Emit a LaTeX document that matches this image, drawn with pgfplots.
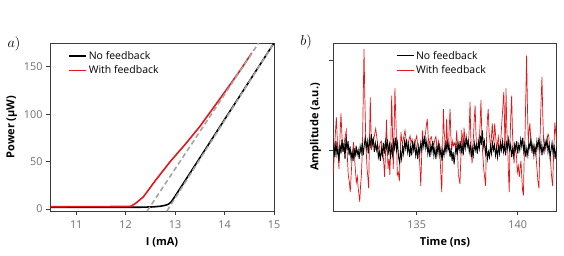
\documentclass[border=0pt]{standalone}
\usepackage{fontspec}
\setmainfont{Open Sans}
\usepackage{pgfplots}
\pgfplotsset{compat=1.18}
\usepackage{pgfplotstable}

\definecolor{fbred}{RGB}{228,22,24}
\definecolor{fitgray}{RGB}{165,165,165}
\definecolor{ticktext}{RGB}{110,110,110}
\definecolor{frame}{RGB}{60,60,60}

% Time trace with optical feedback (red)
\pgfplotstableread{
t a
130.87 -0.28
130.95 0.10
131.02 0.37
131.08 0.05
131.15 -0.21
131.20 0.15
131.25 0.41
131.30 0.15
131.35 -0.02
131.42 0.10
131.51 0.22
131.56 -0.05
131.61 -0.28
131.66 -0.35
131.71 -0.47
131.76 -0.25
131.80 -0.10
131.87 0.09
131.94 -0.15
132.01 -0.36
132.06 -0.30
132.10 -0.42
132.14 -0.50
132.18 -0.58
132.22 -0.40
132.26 -0.28
132.31 0.00
132.35 0.55
132.39 1.13
132.43 0.60
132.48 0.09
132.54 -0.21
132.58 -0.30
132.62 -0.43
132.66 0.10
132.70 0.59
132.73 0.30
132.76 0.00
132.81 0.12
132.86 0.10
132.92 0.18
132.97 0.24
133.03 0.13
133.08 0.05
133.13 0.00
133.19 0.08
133.25 0.10
133.29 0.02
133.33 -0.03
133.37 -0.15
133.41 -0.30
133.46 0.00
133.50 0.34
133.54 0.05
133.58 -0.21
133.63 -0.10
133.67 -0.28
133.72 0.10
133.76 0.61
133.80 0.20
133.84 -0.21
133.88 0.20
133.92 0.69
133.96 0.40
134.00 0.10
134.04 -0.28
134.09 -0.25
134.14 -0.35
134.18 -0.05
134.22 0.20
134.26 0.10
134.30 0.08
134.36 0.15
134.42 0.22
134.48 0.10
134.53 0.00
134.60 0.10
134.67 0.16
134.72 0.08
134.77 0.12
134.82 0.05
134.87 0.00
134.93 0.10
135.00 0.16
135.05 0.05
135.10 0.00
135.15 -0.15
135.20 -0.40
135.24 -0.10
135.28 0.22
135.33 0.10
135.38 0.12
135.44 0.20
135.48 0.28
135.52 0.35
135.57 0.15
135.61 0.05
135.66 0.12
135.72 0.15
135.78 0.08
135.85 0.06
135.90 0.12
135.95 0.15
136.00 0.05
136.04 0.00
136.08 0.10
136.12 0.05
136.17 -0.15
136.21 -0.35
136.24 -0.47
136.28 0.00
136.32 0.46
136.36 0.20
136.40 0.10
136.44 -0.02
136.48 0.35
136.52 0.10
136.57 0.02
136.61 0.25
136.65 0.46
136.69 0.15
136.73 0.00
136.78 0.10
136.82 0.05
136.88 0.08
136.93 0.02
136.98 0.22
137.02 0.00
137.06 -0.28
137.10 -0.32
137.14 -0.38
137.19 -0.05
137.23 0.20
137.27 0.15
137.31 0.00
137.34 0.25
137.38 0.15
137.43 0.10
137.48 0.12
137.52 0.10
137.56 0.05
137.60 0.25
137.64 0.54
137.67 0.20
137.70 0.00
137.74 -0.15
137.77 0.00
137.81 0.15
137.85 0.35
137.89 0.50
137.93 0.20
137.97 0.00
138.02 0.00
138.06 0.05
138.10 0.12
138.14 0.30
138.18 0.56
138.23 0.10
138.27 -0.05
138.32 -0.22
138.36 -0.30
138.41 -0.40
138.45 0.10
138.50 0.35
138.54 0.46
138.58 0.20
138.62 0.12
138.66 0.00
138.70 0.15
138.74 0.30
138.78 0.15
138.82 0.10
138.86 0.30
138.91 0.15
138.96 0.00
139.00 0.08
139.04 0.15
139.08 0.05
139.12 0.00
139.16 0.10
139.21 0.30
139.27 0.50
139.31 0.65
139.34 0.40
139.37 -0.02
139.40 0.30
139.42 0.69
139.46 0.25
139.50 0.05
139.54 -0.25
139.58 -0.47
139.62 0.10
139.66 0.40
139.70 0.61
139.74 0.20
139.78 0.00
139.82 -0.15
139.86 0.08
139.90 0.00
139.94 -0.07
139.98 -0.25
140.03 -0.18
140.08 -0.30
140.12 -0.20
140.16 -0.12
140.20 -0.30
140.24 -0.45
140.28 -0.51
140.32 -0.10
140.36 0.15
140.40 0.60
140.44 1.06
140.48 0.50
140.52 0.10
140.56 0.20
140.60 0.30
140.64 0.15
140.68 0.08
140.72 -0.02
140.76 0.03
140.80 0.05
140.85 -0.03
140.90 -0.05
140.95 -0.20
141.00 -0.35
141.05 -0.43
141.10 0.10
141.15 0.50
141.20 0.82
141.24 0.40
141.28 0.10
141.32 0.05
141.36 0.00
141.40 0.05
141.45 0.12
141.50 0.18
141.54 0.15
141.58 0.02
141.62 -0.10
141.66 -0.25
141.70 -0.35
141.73 -0.40
141.77 -0.10
141.81 0.15
141.84 0.31
141.88 0.20
141.93 0.10
}\tracefb

% Time trace without feedback (black)
\pgfplotstableread{
t a
130.87 0.00
130.90 0.05
130.95 -0.08
131.00 0.10
131.05 -0.05
131.10 0.02
131.15 -0.12
131.20 0.06
131.25 -0.04
131.30 0.12
131.35 -0.02
131.40 0.08
131.45 -0.10
131.50 0.15
131.55 0.00
131.60 0.10
131.65 -0.06
131.70 0.04
131.75 -0.10
131.80 -0.02
131.85 -0.12
131.90 0.02
131.95 -0.08
132.00 0.05
132.05 -0.05
132.10 0.00
132.15 -0.10
132.20 0.04
132.25 -0.03
132.30 0.08
132.35 -0.06
132.40 0.05
132.45 0.14
132.50 0.02
132.55 0.10
132.60 -0.04
132.65 0.12
132.70 0.05
132.75 0.18
132.80 0.06
132.85 0.12
132.90 -0.02
132.95 0.08
133.00 0.00
133.05 0.06
133.10 -0.08
133.15 -0.02
133.20 -0.12
133.25 0.02
133.30 -0.06
133.35 0.08
133.40 -0.04
133.45 0.10
133.50 0.02
133.55 0.12
133.60 -0.02
133.65 0.06
133.70 -0.10
133.75 0.04
133.80 -0.05
133.85 0.10
133.90 0.02
133.95 0.14
134.00 0.00
134.05 0.08
134.10 -0.08
134.15 -0.14
134.20 -0.02
134.25 -0.10
134.30 0.04
134.35 -0.04
134.40 0.10
134.45 0.02
134.50 0.12
134.55 -0.02
134.60 0.06
134.65 -0.08
134.70 0.04
134.75 -0.06
134.80 0.10
134.85 0.00
134.90 0.08
134.95 -0.06
135.00 0.02
135.05 -0.10
135.10 0.04
135.15 -0.04
135.20 0.08
135.25 0.00
135.30 0.12
135.35 0.04
135.40 0.16
135.45 0.02
135.50 0.10
135.55 -0.04
135.60 0.04
135.65 -0.08
135.70 0.06
135.75 -0.02
135.80 0.10
135.85 -0.06
135.90 0.02
135.95 -0.10
136.00 0.04
136.05 -0.04
136.10 0.08
136.15 -0.06
136.20 0.02
136.25 -0.12
136.30 0.00
136.35 -0.06
136.40 0.06
136.45 -0.02
136.50 0.10
136.55 0.00
136.60 0.06
136.65 -0.08
136.70 0.02
136.75 -0.12
136.80 -0.02
136.85 -0.16
136.90 -0.04
136.95 0.04
137.00 -0.06
137.05 0.08
137.10 0.00
137.15 0.10
137.20 -0.04
137.25 0.06
137.30 -0.06
137.35 0.10
137.40 0.02
137.45 0.14
137.50 0.04
137.55 0.10
137.60 -0.02
137.65 0.06
137.70 -0.08
137.75 0.02
137.80 -0.06
137.85 0.08
137.90 0.00
137.95 0.06
138.00 -0.04
138.05 0.10
138.10 0.02
138.15 0.16
138.20 0.06
138.25 0.22
138.30 0.04
138.35 0.10
138.40 -0.04
138.45 0.04
138.50 -0.10
138.55 -0.02
138.60 -0.08
138.65 0.04
138.70 -0.04
138.75 0.08
138.80 0.00
138.85 0.06
138.90 -0.06
138.95 0.02
139.00 -0.08
139.05 0.04
139.10 -0.04
139.15 0.08
139.20 0.00
139.25 0.10
139.30 -0.02
139.35 0.06
139.40 -0.06
139.45 0.08
139.50 0.02
139.55 0.12
139.60 0.00
139.65 0.06
139.70 -0.08
139.75 0.02
139.80 -0.06
139.85 0.06
139.90 0.00
139.95 0.10
140.00 -0.04
140.05 0.06
140.10 0.00
140.15 0.12
140.20 0.04
140.25 0.14
140.30 -0.02
140.35 0.06
140.40 -0.08
140.45 0.02
140.50 -0.06
140.55 0.08
140.60 0.02
140.65 0.12
140.70 0.00
140.75 0.06
140.80 -0.06
140.85 0.04
140.90 -0.04
140.95 0.10
141.00 0.02
141.05 0.14
141.10 0.00
141.15 0.08
141.20 -0.06
141.25 0.04
141.30 -0.02
141.35 0.10
141.40 0.04
141.45 0.12
141.50 -0.02
141.55 0.06
141.60 -0.08
141.65 0.00
141.70 0.08
141.75 -0.04
141.80 0.06
141.85 -0.10
141.90 0.00
141.93 0.04
}\tracenofb

\pgfplotsset{
  panel/.style={
    scale only axis,
    width=224pt, height=168pt,
    axis line style={frame, line width=0.7pt},
    tick style={frame, line width=0.7pt},
    tick align=outside,
    xtick pos=bottom, ytick pos=left,
    major tick length=4pt,
    tick label style={font=\fontsize{10.8}{12}\selectfont, text=ticktext},
    xticklabel style={yshift=-2pt},
    /pgf/number format/assume math mode=true,
    label style={font=\fontsize{11}{13}\selectfont\bfseries},
    xlabel style={yshift=-2pt},
    legend cell align=left,
    legend style={draw=none, fill=none, inner sep=0pt,
      font=\fontsize{10.5}{12}\selectfont, row sep=1pt},
  },
}

\begin{document}
\begin{tikzpicture}[x=1pt,y=1pt]
\path[use as bounding box] (0,0) rectangle (564,255);

% (a) light-current characteristics
\begin{axis}[panel, at={(50pt,44pt)}, anchor=south west,
  xmin=10.47, xmax=15, ymin=-2, ymax=175,
  xtick={11,12,13,14,15}, ytick={0,50,100,150},
  xlabel={I (mA)}, ylabel={Power (µW)},
  ylabel style={yshift=0pt},
  legend style={at={(axis description cs:0.08,0.965)}, anchor=north west},
]
\addplot[black, line width=1.6pt] coordinates {
  (10.47,1.8) (11.5,1.9) (12.3,2.0) (12.55,2.3) (12.7,3.0) (12.8,4.0)
  (12.86,5.0) (12.92,7.5) (12.98,12.0) (15.0,175.0)};
\addlegendentry{No feedback}
\addplot[fbred, line width=1.6pt] coordinates {
  (10.47,2.5) (11.5,2.6) (12.1,2.9) (12.2,6) (12.36,13) (12.6,30)
  (12.9,50) (13.2,68) (13.5,87) (14.0,123) (14.3,145) (14.55,164.5)};
\addlegendentry{With feedback}
% linear fits above threshold
\addplot[fitgray, line width=1.6pt, dash pattern=on 5pt off 3pt, forget plot]
  coordinates {(12.835,-2) (15.0,175)};
\addplot[fitgray, line width=1.6pt, dash pattern=on 5pt off 3pt, forget plot]
  coordinates {(12.435,-2) (14.69,175)};
\end{axis}
\node[font=\fontsize{14}{16}\selectfont] at (14,211) {$a)$};

% (b) time traces
\begin{axis}[panel, at={(333.3pt,44pt)}, anchor=south west, width=223.4pt,
  xmin=130.87, xmax=141.93, ymin=-0.683, ymax=1.2,
  xtick={135,140}, ytick={0,1}, yticklabels={},
  xlabel={Time (ns)}, ylabel={Amplitude (a.u.)},
  ylabel style={yshift=-2pt},
  legend style={at={(axis description cs:0.28,0.965)}, anchor=north west},
]
\addlegendimage{black, line width=0.9pt}
\addlegendentry{No feedback}
\addplot[fbred, line width=0.7pt] table[x=t,y=a] {\tracefb};
\addlegendentry{With feedback}
\addplot[black, line width=0.9pt, forget plot] table[x=t,y=a] {\tracenofb};
\end{axis}
\node[font=\fontsize{14}{16}\selectfont] at (306,213) {$b)$};
\end{tikzpicture}
\end{document}
